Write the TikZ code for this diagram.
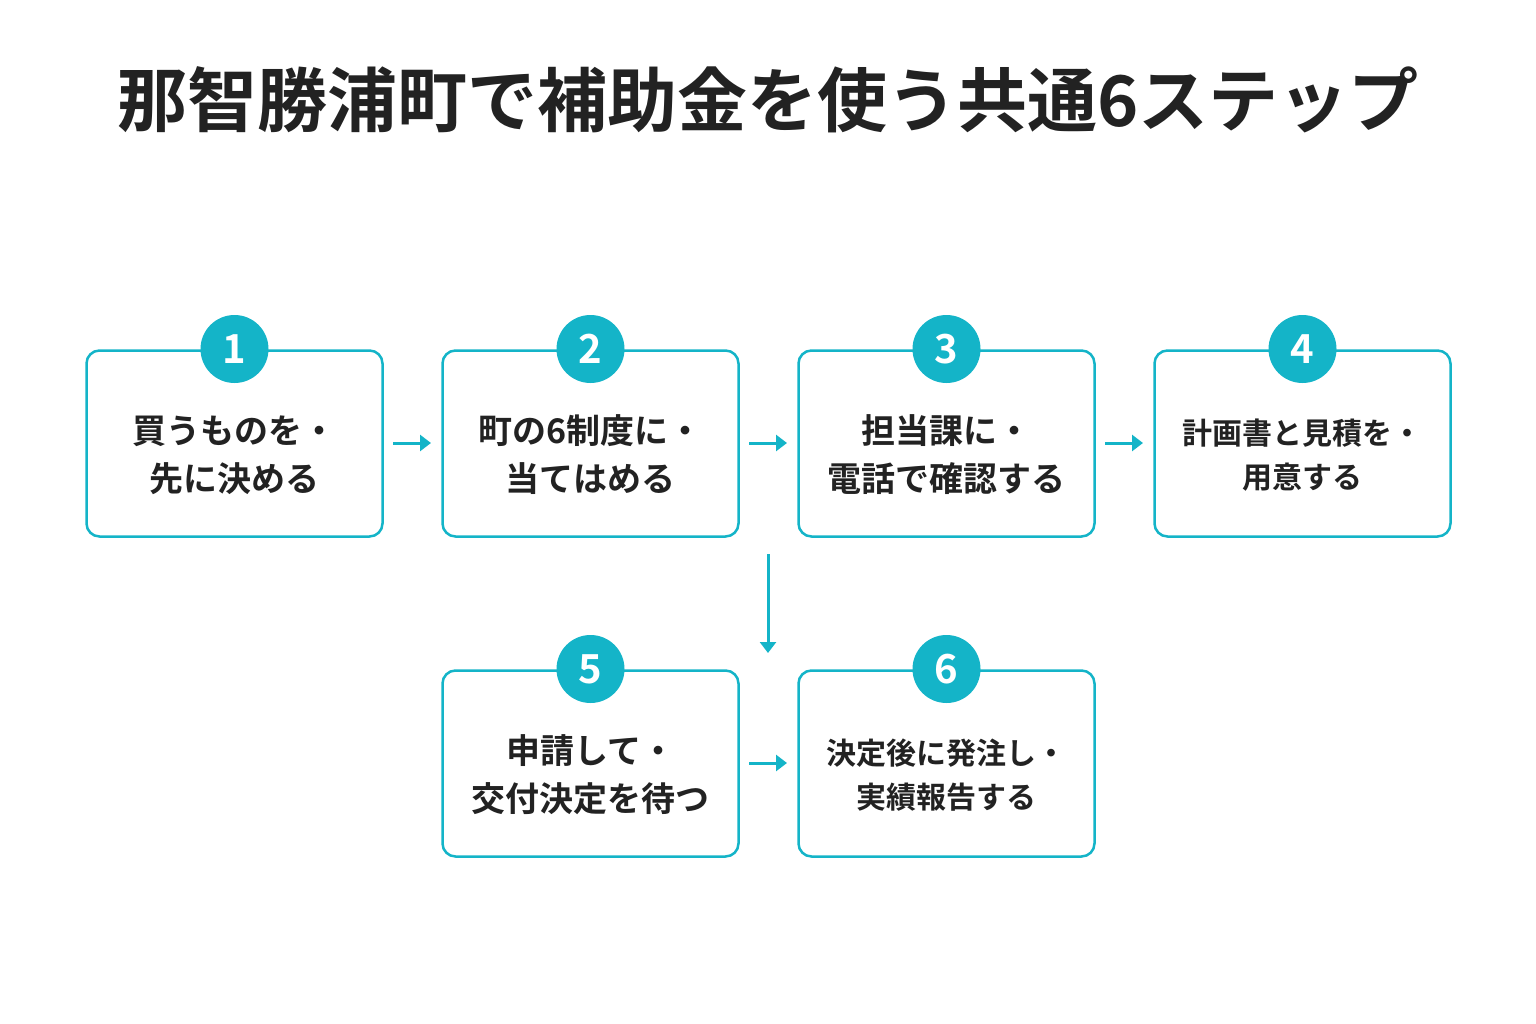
\documentclass[tikz,border=0pt]{standalone}
\usepackage{fontspec}
\setmainfont{Noto Sans CJK JP}[BoldFont={* Bold}]
\newfontfamily\cjkb{Noto Sans CJK JP Bold}
\usetikzlibrary{arrows.meta}
\definecolor{tl}{HTML}{14B4C8}
\definecolor{ink}{HTML}{222222}
\begin{document}
\begin{tikzpicture}[x=1pt,y=-1pt,
 box/.style={draw=tl,line width=2.5pt,rounded corners=13pt,minimum width=296pt,minimum height=186pt,fill=white},
 num/.style={circle,fill=tl,minimum size=68pt,inner sep=0pt,text=white,font=\fontsize{40}{40}\cjkb},
 lbl/.style={text=ink,align=center,font=\fontsize{34}{48}\bfseries},
 lbls/.style={text=ink,align=center,font=\fontsize{30}{44}\bfseries},
 arr/.style={draw=tl,line width=3pt,-{Triangle[length=11pt,width=16pt]}}]
\useasboundingbox (0,0) rectangle (1536,1024);
\node[text=ink,font=\fontsize{70}{70}\cjkb] (title) at (768,100) {那智勝浦町で補助金を使う共通6ステップ};
\node[box] (b1) at (234.5,443.5) {}; \node[num] (n1) at (234.5,349) {1};
\node[lbl] (t1) at (234.5,455) {買うものを・\\先に決める};
\node[box] (b2) at (590.5,443.5) {}; \node[num] (n2) at (590.5,349) {2};
\node[lbl] (t2) at (590.5,455) {町の6制度に・\\当てはめる};
\node[box] (b3) at (946.5,443.5) {}; \node[num] (n3) at (946.5,349) {3};
\node[lbl] (t3) at (946.5,455) {担当課に・\\電話で確認する};
\node[box] (b4) at (1302.5,443.5) {}; \node[num] (n4) at (1302.5,349) {4};
\node[lbls] (t4) at (1302.5,455) {計画書と見積を・\\用意する};
\node[box] (b5) at (590.5,763.5) {}; \node[num] (n5) at (590.5,669) {5};
\node[lbl] (t5) at (590.5,775) {申請して・\\交付決定を待つ};
\node[box] (b6) at (946.5,763.5) {}; \node[num] (n6) at (946.5,669) {6};
\node[lbls] (t6) at (946.5,775) {決定後に発注し・\\実績報告する};
\coordinate (a1s) at (393,443); \coordinate (a1e) at (431,443);
\coordinate (a2s) at (749,443); \coordinate (a2e) at (787,443);
\coordinate (a3s) at (1105,443); \coordinate (a3e) at (1143,443);
\coordinate (vs) at (768,554); \coordinate (ve) at (768,653);
\coordinate (a5s) at (749,763); \coordinate (a5e) at (787,763);
\draw[arr] (a1s)--(a1e); \draw[arr] (a2s)--(a2e); \draw[arr] (a3s)--(a3e);
\draw[arr] (vs)--(ve); \draw[arr] (a5s)--(a5e);
\end{tikzpicture}
\end{document}
